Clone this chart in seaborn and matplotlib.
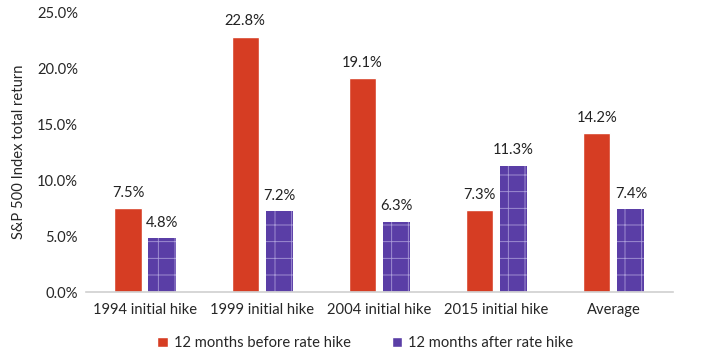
import pandas as pd
import numpy as np
from matplotlib import pyplot as plt
import seaborn as sns

# data
categories = ['1994 initial hike', '1999 initial hike', '2004 initial hike',
              '2015 initial hike', 'Average']
before_hike = [7.5, 22.8, 19.1, 7.3, 14.2]
after_hike = [4.8, 7.2, 6.3, 11.3, 7.4]
series = ['12 months before rate hike', '12 months after rate hike']

df = pd.DataFrame({
    'category': categories * 2,
    'value': before_hike + after_hike,
    'series': [series[0]] * len(categories) + [series[1]] * len(categories),
})

sns.set_style('white')
plt.rcParams['font.family'] = ['Lato', 'DejaVu Sans']
plt.rcParams['hatch.linewidth'] = 0.6

red = '#D63D23'
purple = '#5A3EA6'
fs = 10.6

fig = plt.figure(figsize=(7.02, 3.55), dpi=100)
ax = fig.add_axes([0.123, 0.177, 0.835, 0.789])
sns.barplot(data=df, x='category', y='value', hue='series',
            palette=[red, purple], width=0.58, gap=0.2, ax=ax,
            saturation=1, legend=True)

# light grid pattern on the purple bars
for p in ax.containers[1]:
    p.set_hatch('+')
    p.set_edgecolor('#A99BD8')
    p.set_linewidth(0)

for cont in ax.containers:
    ax.bar_label(cont, labels=[f'{v:.1f}%' for v in cont.datavalues],
                 padding=6, fontsize=fs, color='#222222')

ax.set_ylim(0, 25)
ax.set_yticks(np.arange(0, 25.1, 5))
ax.set_yticklabels([f'{t:.1f}%' for t in np.arange(0, 25.1, 5)], fontsize=fs)
ax.tick_params(axis='x', labelsize=fs, length=0, pad=8)
ax.tick_params(axis='y', length=0, pad=6)
ax.set_xlabel('')
ax.set_ylabel('S&P 500 Index total return', fontsize=fs, labelpad=8)
for s in ['top', 'right', 'left']:
    ax.spines[s].set_visible(False)
ax.spines['bottom'].set_color('#D0D0D0')
ax.spines['bottom'].set_linewidth(1.2)

handles, labels = ax.get_legend_handles_labels()
ax.legend(handles, labels, loc='upper center', bbox_to_anchor=(0.476, -0.11),
          ncol=2, frameon=False, fontsize=fs, handlelength=0.7,
          handleheight=0.7, handletextpad=0.4, columnspacing=2.8)

fig.savefig('out.png', dpi=100)
